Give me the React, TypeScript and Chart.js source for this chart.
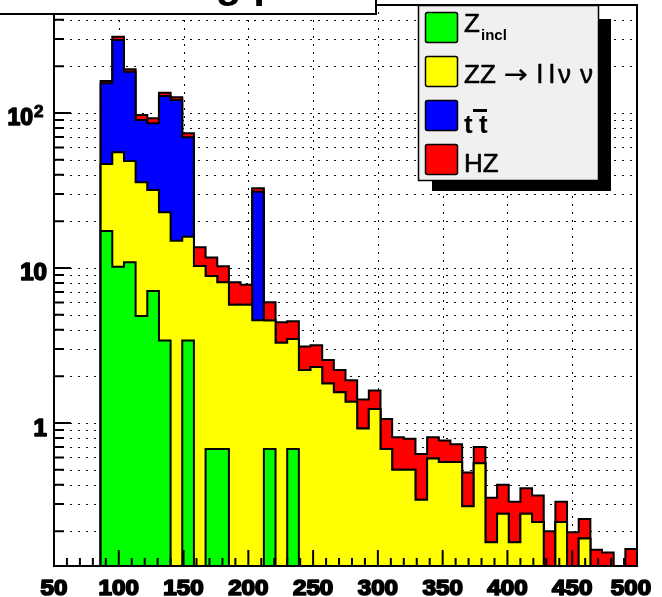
import { useEffect, useRef } from 'react';
import { Chart, registerables } from 'chart.js';

Chart.register(...registerables);

// ---- Binning (lower edges of the 50 bins, plus upper edge) ----
const binLowEdges: number[] = [
  50, 59, 68, 77, 86, 95, 104, 113, 122, 131,
  140, 149, 158, 167, 176, 185, 194, 203, 212, 221,
  230, 239, 248, 257, 266, 275, 284, 293, 302, 311,
  320, 329, 338, 347, 356, 365, 374, 383, 392, 401,
  410, 419, 428, 437, 446, 455, 464, 473, 482, 491,
];
const binUpperEdge = 500;

// ---- Per-component bin contents (stacked bottom to top) ----
const zIncl: number[] = [
  0, 0, 0, 0, 17.3, 10.2, 10.9, 4.9, 7.1, 3.4,
  0, 3.4, 0, 0.68, 0.68, 0, 0, 0, 0.68, 0,
  0.68, 0, 0, 0, 0, 0, 0, 0, 0, 0,
  0, 0, 0, 0, 0, 0, 0, 0, 0, 0,
  0, 0, 0, 0, 0, 0, 0, 0, 0, 0,
];
const zzLLNuNu: number[] = [
  0, 0, 0, 0, 29.6, 45.6, 38.1, 30.8, 24.8, 19.5,
  15.0, 12.5, 10.3, 8.2, 7.4, 5.8, 5.8, 4.6, 3.9, 3.3,
  2.8, 2.2, 2.3, 1.8, 1.58, 1.37, 0.92, 1.23, 0.68, 0.5,
  0.5, 0.32, 0.59, 0.56, 0.56, 0.29, 0.55, 0.17, 0.26, 0.17,
  0.26, 0.23, 0, 0.23, 0, 0.18, 0, 0, 0, 0,
];
const ttbar: number[] = [
  0, 0, 0, 0, 108.5, 240, 135.7, 54.4, 54, 105.9,
  106.3, 53.8, 0, 0, 0, 0, 0, 26.5, 0, 0,
  0, 0, 0, 0, 0, 0, 0, 0, 0, 0,
  0, 0, 0, 0, 0, 0, 0, 0, 0, 0,
  0, 0, 0, 0, 0, 0, 0, 0, 0, 0,
];
const hzSignal: number[] = [
  0, 0, 0, 0, 5.5, 14.9, 6.7, 7.0, 6.5, 6.4,
  5.0, 4.3, 3.3, 2.8, 2.2, 2.3, 2.0, 1.6, 1.44, 1.17,
  1.05, 0.91, 0.88, 0.75, 0.62, 0.52, 0.5, 0.39, 0.38, 0.31,
  0.29, 0.31, 0.22, 0.21, 0.17, 0.19, 0.15, 0.16, 0.14, 0.14,
  0.12, 0.11, 0.2, 0.08, 0.197, 0.06, 0.152, 0.146, 0, 0.154,
];

// ---- Axes ----
const xMin = 50;
const xMax = 500;
const yMin = 0.1195;
const yMax = 497.6;
const xTickValues: number[] = [
  50, 60, 70, 80, 90, 100, 110, 120, 130, 140, 150, 160, 170, 180, 190, 200,
  210, 220, 230, 240, 250, 260, 270, 280, 290, 300, 310, 320, 330, 340, 350,
  360, 370, 380, 390, 400, 410, 420, 430, 440, 450, 460, 470, 480, 490, 500,
];
const xLabelValues: number[] = [50, 100, 150, 200, 250, 300, 350, 400, 450, 500];
const xLabelTexts: string[] = ['50', '100', '150', '200', '250', '300', '350', '400', '450', '500'];
const xGridValues: number[] = [100, 150, 200, 250, 300, 350, 400, 450];
const yTickValues: number[] = [
  0.2, 0.3, 0.4, 0.5, 0.6, 0.7, 0.8, 0.9,
  1, 2, 3, 4, 5, 6, 7, 8, 9,
  10, 20, 30, 40, 50, 60, 70, 80, 90,
  100, 200, 300, 400,
];
const yMajorValues: number[] = [1, 10, 100];

// ---- Legend ----
const legendColors: string[] = ['#00ff00', '#ffff00', '#0000ff', '#ff0000'];
const titleText = 'Missing p';

const FONT = '"Liberation Sans", Arial, Helvetica, sans-serif';
const ZERO_FLOOR = 1e-3;

function cumulative(parts: number[][]): number[] {
  return binLowEdges.map((_, i) => parts.reduce((s, a) => s + a[i], 0));
}
function toSteps(vals: number[]) {
  const pts = binLowEdges.map((x, i) => ({ x, y: vals[i] > 0 ? vals[i] : ZERO_FLOOR }));
  const last = vals[vals.length - 1];
  pts.push({ x: binUpperEdge, y: last > 0 ? last : ZERO_FLOOR });
  return pts;
}

function drawText(
  ctx: CanvasRenderingContext2D, text: string, x: number, y: number,
  font: string, align: 'left' | 'center' | 'right', sx = 1, stroke = 0,
) {
  ctx.save();
  ctx.font = font;
  ctx.textBaseline = 'alphabetic';
  ctx.textAlign = 'left';
  const w = ctx.measureText(text).width * sx;
  const left = align === 'center' ? x - w / 2 : align === 'right' ? x - w : x;
  ctx.translate(left, y);
  ctx.scale(sx, 1);
  ctx.fillStyle = '#000';
  ctx.fillText(text, 0, 0);
  if (stroke > 0) {
    ctx.strokeStyle = '#000';
    ctx.lineWidth = stroke;
    ctx.lineJoin = 'round';
    ctx.strokeText(text, 0, 0);
  }
  ctx.restore();
}

const rootStylePlugin = {
  id: 'rootStyle',
  beforeDatasetsDraw(chart: any) {
    const { ctx, chartArea: a, scales } = chart;
    const xs = scales.x;
    const ys = scales.y;
    ctx.save();
    ctx.beginPath();
    ctx.rect(a.left, a.top, a.right - a.left, a.bottom - a.top);
    ctx.clip();
    ctx.strokeStyle = '#000';
    ctx.lineWidth = 1;
    ctx.setLineDash([2, 6]);
    ctx.beginPath();
    for (const v of xGridValues) {
      const px = Math.round(xs.getPixelForValue(v)) + 0.5;
      ctx.moveTo(px, a.bottom);
      ctx.lineTo(px, a.top);
    }
    for (const v of yTickValues) {
      const py = Math.round(ys.getPixelForValue(v)) + 0.5;
      ctx.moveTo(a.left, py);
      ctx.lineTo(a.right, py);
    }
    ctx.stroke();
    ctx.restore();
  },
  afterDatasetsDraw(chart: any) {
    const { ctx, chartArea: a, scales } = chart;
    const xs = scales.x;
    const ys = scales.y;
    ctx.save();
    ctx.strokeStyle = '#000';
    ctx.lineWidth = 2;
    ctx.setLineDash([]);
    ctx.strokeRect(a.left, a.top, a.right - a.left, a.bottom - a.top);
    // ticks
    ctx.beginPath();
    for (const v of yTickValues) {
      const py = ys.getPixelForValue(v);
      const len = yMajorValues.includes(v) ? 17 : 10;
      ctx.moveTo(a.left, py);
      ctx.lineTo(a.left + len, py);
    }
    for (const v of xTickValues) {
      const px = xs.getPixelForValue(v);
      const len = xLabelValues.includes(v) ? 16 : 8;
      ctx.moveTo(px, a.bottom);
      ctx.lineTo(px, a.bottom - len);
    }
    ctx.stroke();
    ctx.restore();
    // x labels
    const xFont = `bold 22px ${FONT}`;
    xLabelValues.forEach((v, i) => {
      let px = xs.getPixelForValue(v);
      if (v === xMax) px -= 6;
      drawText(ctx, xLabelTexts[i], px, a.bottom + 29, xFont, 'center', 1.1, 1.7);
    });
    // y labels
    const yFont = `bold 23px ${FONT}`;
    const y1 = ys.getPixelForValue(1);
    const y10 = ys.getPixelForValue(10);
    const y100 = ys.getPixelForValue(100);
    drawText(ctx, '1', 47, y1 + 13, yFont, 'right', 1.05, 1.6);
    drawText(ctx, '10', 47, y10 + 12, yFont, 'right', 1.05, 1.6);
    drawText(ctx, '10', 33, y100 + 12, yFont, 'right', 1.0, 1.6);
    drawText(ctx, '2', 34, y100 + 4, `bold 17px ${FONT}`, 'left', 1.0, 1);
  },
  afterDraw(chart: any) {
    const { ctx } = chart;
    // title pave (mostly outside the canvas)
    ctx.save();
    ctx.fillStyle = '#fff';
    ctx.fillRect(-2, -2, 378, 16);
    ctx.strokeStyle = '#000';
    ctx.lineWidth = 2;
    ctx.strokeRect(-2, -2, 378, 16);
    ctx.beginPath();
    ctx.rect(0, 0, 375, 13);
    ctx.clip();
    drawText(ctx, titleText, 182, -3, `bold 42px ${FONT}`, 'center', 1, 0);
    ctx.restore();

    // legend with shadow
    ctx.save();
    ctx.fillStyle = '#000';
    ctx.fillRect(432, 19, 179, 172);
    ctx.fillStyle = '#f0f0f0';
    ctx.fillRect(418, 5, 181, 176);
    ctx.strokeStyle = '#000';
    ctx.lineWidth = 1.5;
    ctx.strokeRect(418.5, 5.5, 180, 175);
    const tops = [12, 56, 100, 144];
    tops.forEach((t, i) => {
      ctx.fillStyle = legendColors[i];
      ctx.beginPath();
      (ctx as any).roundRect(425.5, t + 0.5, 32, 30, 2);
      ctx.fill();
      ctx.lineWidth = 1.5;
      ctx.strokeStyle = '#000';
      ctx.stroke();
    });
    ctx.restore();
    const lf = `26px ${FONT}`;
    // Z_incl
    drawText(ctx, 'Z', 464, 32, lf, 'left', 1, 0.6);
    drawText(ctx, 'incl', 481, 40, `bold 15px ${FONT}`, 'left');
    // ZZ -> l l nu nu
    drawText(ctx, 'ZZ', 464, 83, lf, 'left', 1, 0.6);
    drawText(ctx, '\u2192', 504, 83, `26px "DejaVu Sans", ${FONT}`, 'left', 1.1, 0.3);
    drawText(ctx, 'l', 537, 83, lf, 'left', 1, 0.6);
    drawText(ctx, 'l', 549, 83, lf, 'left', 1, 0.6);
    drawText(ctx, '\u03bd', 558, 83, lf, 'left', 1, 0.6);
    drawText(ctx, '\u03bd', 580, 83, lf, 'left', 1, 0.6);
    // t tbar
    drawText(ctx, 't', 464, 133, `bold 26px ${FONT}`, 'left');
    drawText(ctx, 't', 479, 133, `bold 26px ${FONT}`, 'left');
    ctx.save();
    ctx.fillStyle = '#000';
    ctx.fillRect(473, 109, 14, 3);
    ctx.restore();
    // HZ
    drawText(ctx, 'HZ', 464, 172, lf, 'left', 1, 0.6);
  },
};

export default function App() {
  const ref = useRef<HTMLCanvasElement>(null);
  useEffect(() => {
    const sZ = cumulative([zIncl]);
    const sZZ = cumulative([zIncl, zzLLNuNu]);
    const sTT = cumulative([zIncl, zzLLNuNu, ttbar]);
    const sAll = cumulative([zIncl, zzLLNuNu, ttbar, hzSignal]);
    const mk = (label: string, vals: number[], color: string) => ({
      label,
      data: toSteps(vals),
      stepped: 'before' as const,
      fill: 'start',
      backgroundColor: color,
      borderColor: '#000',
      borderWidth: 2,
      borderJoinStyle: 'miter' as const,
      pointRadius: 0,
      tension: 0,
    });
    const chart = new Chart(ref.current!, {
      type: 'line',
      data: {
        datasets: [
          mk('Z_incl', sZ, legendColors[0]),
          mk('ZZ', sZZ, legendColors[1]),
          mk('ttbar', sTT, legendColors[2]),
          mk('HZ', sAll, legendColors[3]),
        ] as any,
      },
      options: {
        responsive: false,
        maintainAspectRatio: false,
        animation: false,
        devicePixelRatio: 1,
        events: [],
        layout: { padding: { left: 54, right: 25, top: 5, bottom: 31 } },
        plugins: { legend: { display: false }, tooltip: { enabled: false } },
        scales: {
          x: { type: 'linear', min: xMin, max: xMax, display: false },
          y: { type: 'logarithmic', min: yMin, max: yMax, display: false },
        },
      },
      plugins: [rootStylePlugin],
    });
    return () => chart.destroy();
  }, []);
  return (
    <div style={{ position: 'fixed', left: 0, top: 0, width: 662, height: 597, background: '#fff' }}>
      <canvas ref={ref} width={662} height={597} style={{ display: 'block', width: 662, height: 597 }} />
    </div>
  );
}
